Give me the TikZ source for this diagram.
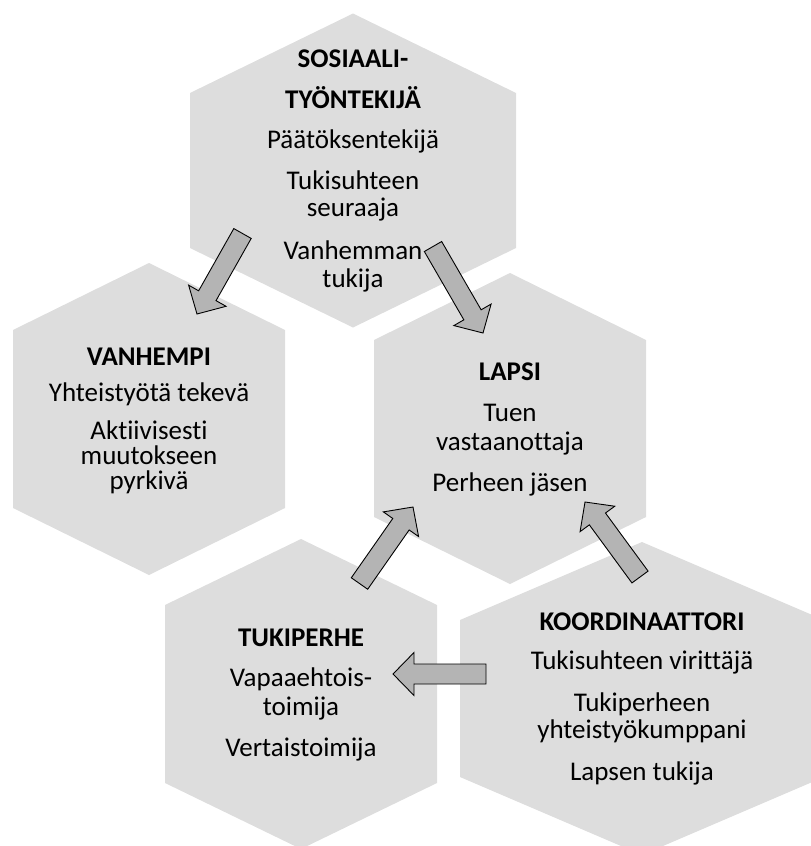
\documentclass[tikz,border=0pt]{standalone}
\usepackage{fontspec}
\setmainfont{Carlito}[Ligatures={NoCommon}]
\usetikzlibrary{calc}
\definecolor{hexfill}{RGB}{221,221,221}
\definecolor{arrfill}{RGB}{180,180,180}
\tikzset{
  hexa/.style={fill=hexfill, draw=none},
  barrow/.style={fill=arrfill, draw=black, line width=0.9pt, line join=miter},
  lbl/.style={anchor=base, inner sep=0pt, font=\fontsize{27}{31}\selectfont},
  ttl/.style={anchor=base, inner sep=0pt, font=\fontsize{27}{31}\selectfont\bfseries},
}
% #1 centre, #2 half width, #3 half side, #4 half height
\newcommand\hexshape[4]{%
  \fill[hexa] ($(#1)+(0,-#4)$) -- ($(#1)+(#2,-#3)$) -- ($(#1)+(#2,#3)$) --
    ($(#1)+(0,#4)$) -- ($(#1)+(-#2,#3)$) -- ($(#1)+(-#2,-#3)$) -- cycle;}
% #1 tail, #2 tip, #3 id
\newcommand\blockarrow[3]{%
  \coordinate (#3n) at ($(#2)!21pt!(#1)$);
  \draw[barrow] ($(#1)!10pt!90:(#2)$) -- ($(#3n)!10pt!90:(#2)$) --
    ($(#3n)!21.5pt!90:(#2)$) -- (#2) -- ($(#3n)!21.5pt!-90:(#2)$) --
    ($(#3n)!10pt!-90:(#2)$) -- ($(#1)!10pt!-90:(#2)$) -- cycle;}
\begin{document}
\begin{tikzpicture}[x=1pt,y=-1pt]
\useasboundingbox (0,0) rectangle (811,846);
% hexagon centres
\coordinate (sos) at (353,170.5);
\coordinate (van) at (149,419);
\coordinate (lap) at (510,428.5);
\coordinate (tuk) at (301,694);
\coordinate (koo) at (642,698.5);
\hexshape{sos}{163}{77.5}{157}
\hexshape{van}{136}{89}{156}
\hexshape{lap}{136}{88.5}{155.5}
\hexshape{tuk}{136}{89}{155}
\hexshape{koo}{182}{78.5}{156.5}
% texts
\node[ttl] (s1) at (353,67) {SOSIAALI-};
\node[ttl] (s2) at (353,108) {TYÖNTEKIJÄ};
\node[lbl] (s3) at (353,148.5) {Päätöksentekijä};
\node[lbl] (s4) at (353,189.5) {Tukisuhteen};
\node[lbl] (s5) at (353,216.5) {seuraaja};
\node[lbl] (s6) at (353,259) {Vanhemman};
\node[lbl] (s7) at (353,287) {tukija};
\node[ttl] (v1) at (149,365) {VANHEMPI};
\node[lbl] (v2) at (149,401.7) {Yhteistyötä tekevä};
\node[lbl] (v3) at (149,439.3) {Aktiivisesti};
\node[lbl] (v4) at (149,464.3) {muutokseen};
\node[lbl] (v5) at (149,489.3) {pyrkivä};
\node[ttl] (l1) at (510,380) {LAPSI};
\node[lbl] (l2) at (510,421.7) {Tuen};
\node[lbl] (l3) at (510,450) {vastaanottaja};
\node[lbl] (l4) at (510,491.7) {Perheen jäsen};
\node[ttl] (t1) at (301,646.7) {TUKIPERHE};
\node[lbl] (t2) at (301,686.7) {Vapaaehtois-};
\node[lbl] (t3) at (301,715) {toimija};
\node[lbl] (t4) at (301,756.7) {Vertaistoimija};
\node[ttl] (k1) at (642,630) {KOORDINAATTORI};
\node[lbl] (k2) at (642,669) {Tukisuhteen virittäjä};
\node[lbl] (k3) at (642,711.7) {Tukiperheen};
\node[lbl] (k4) at (642,738.3) {yhteistyökumppani};
\node[lbl] (k5) at (642,780) {Lapsen tukija};
% arrow ends
\coordinate (a1t) at (242.5,233.5); \coordinate (a1h) at (197,314);
\coordinate (a2t) at (433,246.5);   \coordinate (a2h) at (483,333);
\coordinate (a3t) at (359.5,583.5); \coordinate (a3h) at (413,507);
\coordinate (a4t) at (640,577);     \coordinate (a4h) at (585,502);
\coordinate (a5t) at (486,674);     \coordinate (a5h) at (393,674);
\blockarrow{a1t}{a1h}{a1}
\blockarrow{a2t}{a2h}{a2}
\blockarrow{a3t}{a3h}{a3}
\blockarrow{a4t}{a4h}{a4}
\blockarrow{a5t}{a5h}{a5}
\end{tikzpicture}
\end{document}
